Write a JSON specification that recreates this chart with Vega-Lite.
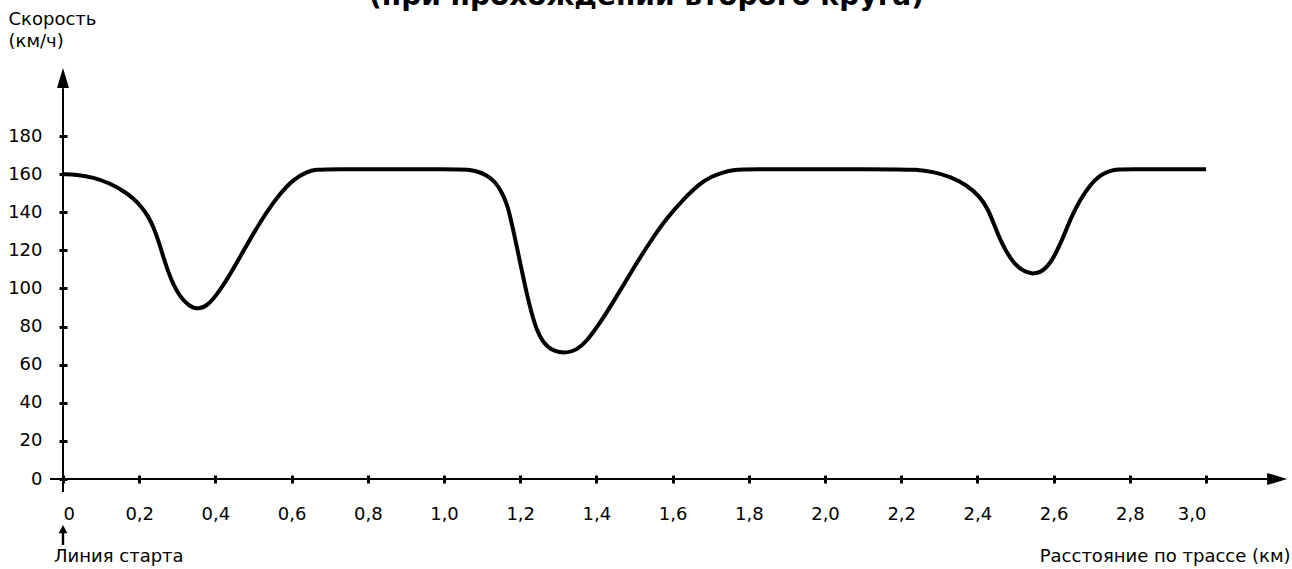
{
  "$schema": "https://vega.github.io/schema/vega-lite/v6.json",
  "autosize": "none",
  "width": 1143,
  "height": 343,
  "padding": {"left": 63, "top": 136, "right": 86, "bottom": 90},
  "background": "white",
  "title": {
    "text": "(при прохождении второго круга)",
    "fontSize": 28,
    "fontWeight": "bold",
    "font": "DejaVu Sans",
    "color": "black",
    "anchor": "middle",
    "frame": "group",
    "dx": 12,
    "dy": 5
  },
  "config": {
    "view": {"stroke": null},
    "font": "DejaVu Sans"
  },
  "encoding": {
    "x": {"field": "x", "type": "quantitative",
      "scale": {"domain": [0, 3], "nice": false, "zero": false},
      "axis": {
        "orient": "bottom",
        "values": [0, 0.2, 0.4, 0.6, 0.8, 1.0, 1.2, 1.4, 1.6, 1.8, 2.0, 2.2, 2.4, 2.6, 2.8, 3.0],
        "labelExpr": "datum.value == 0 ? '0' : replace(format(datum.value, '.1f'), '.', ',')",
        "labelOverlap": false,
        "offset": -4,
        "domain": false,
        "grid": false,
        "tickSize": 8,
        "tickWidth": 3,
        "tickColor": "black",
        "labelColor": "black",
        "labelFontSize": 18,
        "labelPadding": 22,
        "labelFont": "DejaVu Sans",
        "title": "Расстояние по трассе (км)",
        "titleFont": "DejaVu Sans",
        "titleFontSize": 18,
        "titleFontWeight": "normal",
        "titleColor": "black",
        "titleAlign": "right",
        "titleBaseline": "middle",
        "titleX": 1227,
        "titleY": 81
      }
    },
    "y": {"field": "y", "type": "quantitative",
      "scale": {"domain": [0, 180], "nice": false, "zero": false},
      "axis": {
        "orient": "left",
        "values": [0, 20, 40, 60, 80, 100, 120, 140, 160, 180],
        "tickCount": 10,
        "labelOverlap": false,
        "offset": -4,
        "domain": false,
        "grid": false,
        "tickSize": 8,
        "tickWidth": 3,
        "tickColor": "black",
        "labelColor": "black",
        "labelFontSize": 18,
        "labelPadding": 17,
        "labelFont": "DejaVu Sans",
        "title": ["Скорость", "(км/ч)"],
        "titleFont": "DejaVu Sans",
        "titleFontSize": 18,
        "titleFontWeight": "normal",
        "titleColor": "black",
        "titleAngle": 0,
        "titleAlign": "left",
        "titleBaseline": "top",
        "titleLineHeight": 22,
        "titleX": -59,
        "titleY": -126
      }
    }
  },
  "layer": [
    {
      "data": {"values": [
        {"x": -0.034, "x2": 3.2, "y": 0, "y2": 0},
        {"x": 0, "x2": 0, "y": -6.8, "y2": 205}
      ]},
      "mark": {"type": "rule", "color": "black", "strokeWidth": 2},
      "encoding": {
        "x2": {"field": "x2"},
        "y2": {"field": "y2"}
      }
    },
    {
      "data": {"values": [{"x": 3.213, "y": 0}]},
      "mark": {"type": "point", "shape": "M0,0L-1,-0.3L-1,0.3Z", "size": 1600, "filled": true, "color": "black", "opacity": 1, "strokeWidth": 0},
      "encoding": {}
    },
    {
      "data": {"values": [{"x": 0, "y": 215.7}]},
      "mark": {"type": "point", "shape": "M0,0L-0.3,1L0.3,1Z", "size": 1600, "filled": true, "color": "black", "opacity": 1, "strokeWidth": 0},
      "encoding": {}
    },
    {
      "data": {"values": [{"x": 0, "y": -24.1}]},
      "mark": {"type": "point", "shape": "M0,0L-0.22,0.42L-0.06,0.42L-0.06,1L0.06,1L0.06,0.42L0.22,0.42Z", "size": 1600, "filled": true, "color": "black", "opacity": 1, "strokeWidth": 0},
      "encoding": {}
    },
    {
      "data": {"values": [{"x": 0, "y": 0, "label": "Линия старта"}]},
      "mark": {"type": "text", "align": "left", "baseline": "middle", "dx": -9, "dy": 78, "fontSize": 18, "font": "DejaVu Sans", "color": "black"},
      "encoding": {
        "text": {"field": "label"}
      }
    },
    {
      "data": {"values": [
        {"x": 0, "y": 160},
        {"x": 0.036, "y": 159.7},
        {"x": 0.08, "y": 158.3},
        {"x": 0.123, "y": 155.2},
        {"x": 0.158, "y": 151.3},
        {"x": 0.185, "y": 147.3},
        {"x": 0.206, "y": 142.9},
        {"x": 0.224, "y": 137.7},
        {"x": 0.237, "y": 132.4},
        {"x": 0.25, "y": 125.4},
        {"x": 0.263, "y": 116.7},
        {"x": 0.276, "y": 108.8},
        {"x": 0.29, "y": 101.8},
        {"x": 0.307, "y": 95.7},
        {"x": 0.329, "y": 91.0},
        {"x": 0.355, "y": 88.8},
        {"x": 0.381, "y": 91.3},
        {"x": 0.403, "y": 96.6},
        {"x": 0.43, "y": 104.4},
        {"x": 0.465, "y": 116.7},
        {"x": 0.5, "y": 128.9},
        {"x": 0.535, "y": 140.3},
        {"x": 0.57, "y": 149.9},
        {"x": 0.605, "y": 157.3},
        {"x": 0.64, "y": 161.3},
        {"x": 0.665, "y": 162.4},
        {"x": 0.69, "y": 162.5},
        {"x": 0.72, "y": 162.5},
        {"x": 0.8, "y": 162.5},
        {"x": 0.9, "y": 162.5},
        {"x": 1.0, "y": 162.5},
        {"x": 1.04, "y": 162.5},
        {"x": 1.062, "y": 162.4},
        {"x": 1.086, "y": 161.6},
        {"x": 1.112, "y": 159.5},
        {"x": 1.134, "y": 156.0},
        {"x": 1.151, "y": 150.8},
        {"x": 1.165, "y": 144.7},
        {"x": 1.178, "y": 134.2},
        {"x": 1.191, "y": 121.9},
        {"x": 1.204, "y": 109.7},
        {"x": 1.217, "y": 97.4},
        {"x": 1.23, "y": 86.9},
        {"x": 1.243, "y": 78.2},
        {"x": 1.261, "y": 71.2},
        {"x": 1.287, "y": 67.0},
        {"x": 1.322, "y": 66.0},
        {"x": 1.348, "y": 67.7},
        {"x": 1.374, "y": 72.1},
        {"x": 1.409, "y": 81.7},
        {"x": 1.453, "y": 95.7},
        {"x": 1.497, "y": 110.6},
        {"x": 1.541, "y": 124.5},
        {"x": 1.584, "y": 136.8},
        {"x": 1.628, "y": 146.8},
        {"x": 1.672, "y": 155.2},
        {"x": 1.7, "y": 158.5},
        {"x": 1.73, "y": 160.8},
        {"x": 1.76, "y": 162.2},
        {"x": 1.785, "y": 162.5},
        {"x": 1.82, "y": 162.5},
        {"x": 1.9, "y": 162.5},
        {"x": 2.0, "y": 162.5},
        {"x": 2.1, "y": 162.5},
        {"x": 2.2, "y": 162.5},
        {"x": 2.235, "y": 162.4},
        {"x": 2.284, "y": 161.3},
        {"x": 2.328, "y": 158.7},
        {"x": 2.372, "y": 154.3},
        {"x": 2.407, "y": 148.2},
        {"x": 2.429, "y": 141.2},
        {"x": 2.446, "y": 132.4},
        {"x": 2.464, "y": 123.7},
        {"x": 2.486, "y": 115.8},
        {"x": 2.512, "y": 109.7},
        {"x": 2.551, "y": 106.8},
        {"x": 2.582, "y": 110.6},
        {"x": 2.604, "y": 117.5},
        {"x": 2.626, "y": 127.2},
        {"x": 2.647, "y": 137.7},
        {"x": 2.669, "y": 146.4},
        {"x": 2.696, "y": 154.3},
        {"x": 2.722, "y": 159.5},
        {"x": 2.748, "y": 161.8},
        {"x": 2.77, "y": 162.5},
        {"x": 2.8, "y": 162.5},
        {"x": 2.9, "y": 162.5},
        {"x": 2.97, "y": 162.5},
        {"x": 3.0, "y": 162.5}
      ]},
      "mark": {"type": "line", "interpolate": "basis", "color": "black", "strokeWidth": 4},
      "encoding": {}
    }
  ]
}
